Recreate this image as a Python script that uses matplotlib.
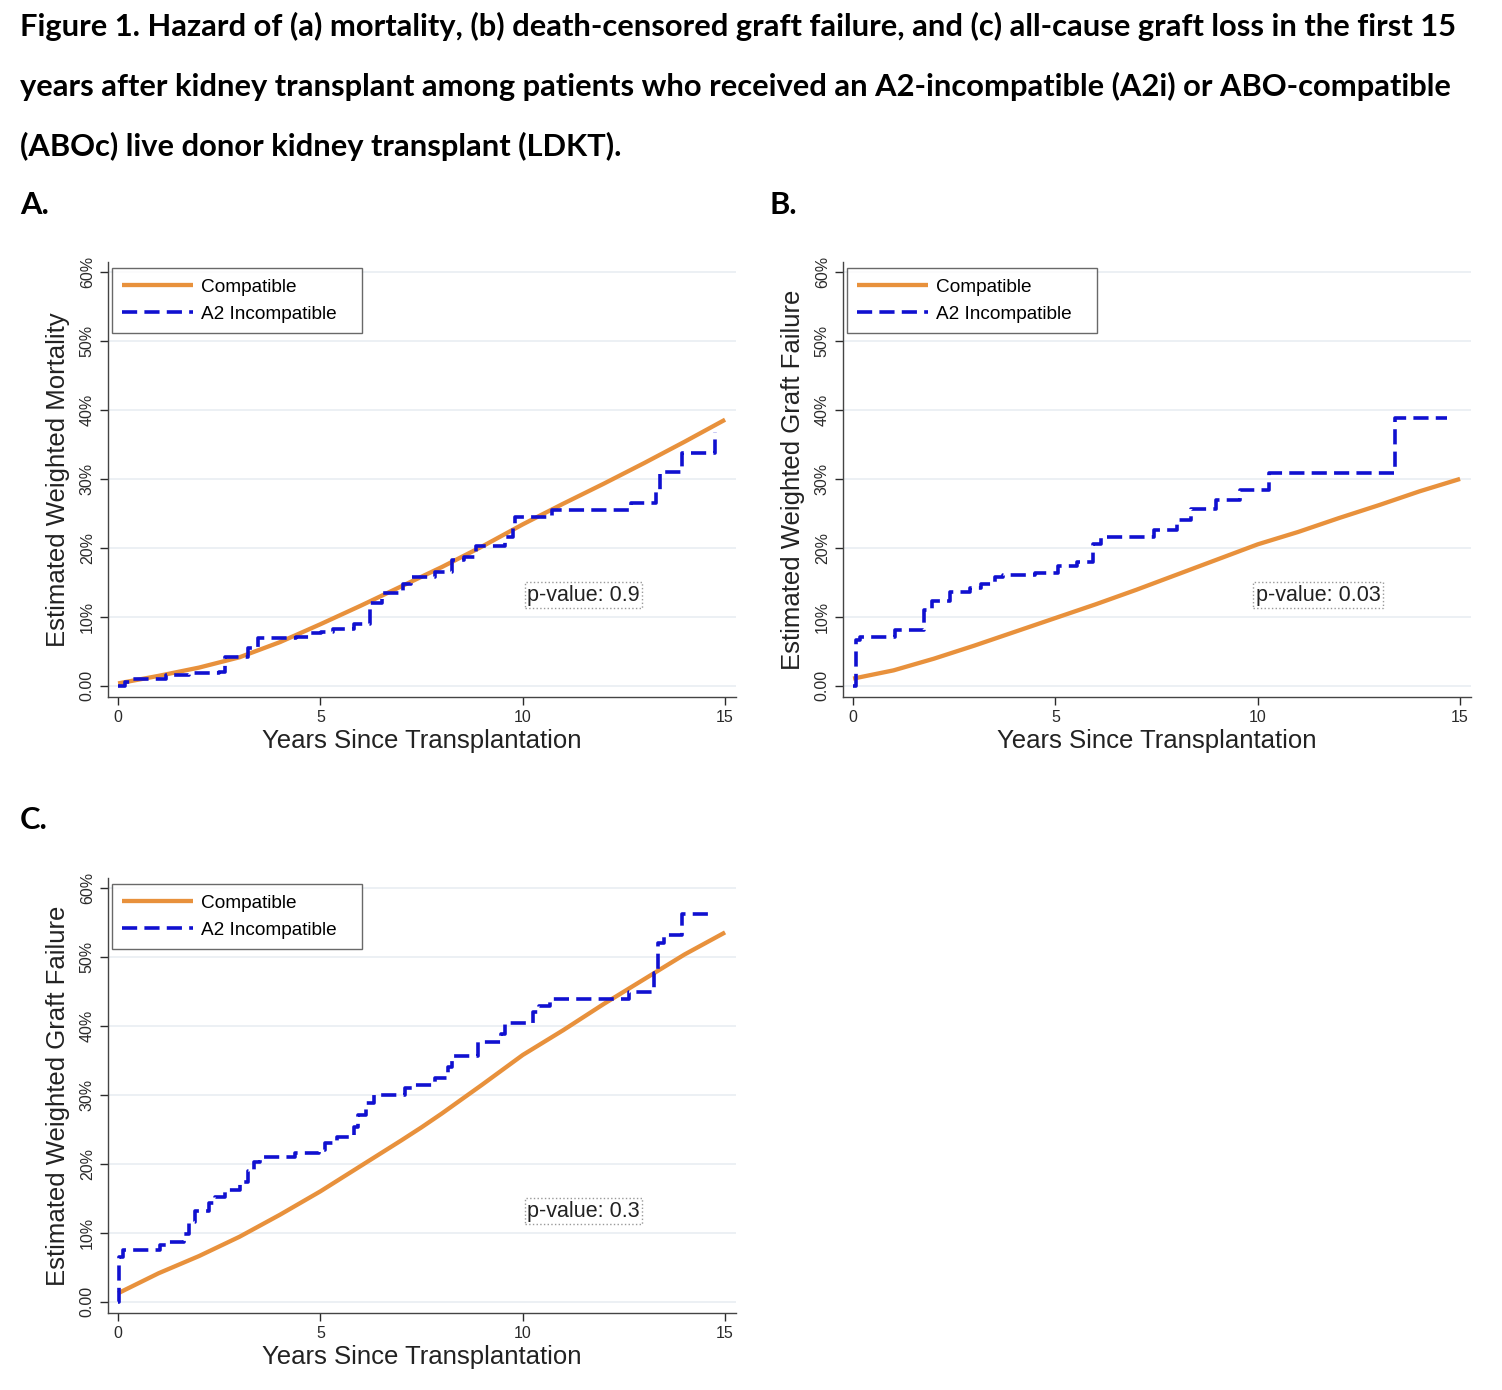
import numpy as np
import matplotlib as mpl
import matplotlib.pyplot as plt

# Panel A: mortality
a_comp_t = [0, 1, 2, 3, 4, 5, 6, 7, 8, 9, 10, 11, 12, 13, 14, 15]
a_comp_y = [0.3, 1.4, 2.6, 4.1, 6.3, 8.9, 11.6, 14.4, 17.2, 20.2, 23.4, 26.4, 29.3, 32.3, 35.4, 38.6]
a_inc_t = [0, 0.18, 0.33, 1.19, 1.74, 2.5, 2.65, 3.2, 3.46, 4.4, 4.77, 5.02, 5.32, 5.83, 6.23, 6.53,
           7.04, 7.24, 7.84, 8.25, 8.55, 8.85, 9.56, 9.76, 9.81, 10.72, 12.68, 13.29, 13.39, 13.94, 14.75]
a_inc_y = [0, 0.5, 1.0, 1.5, 1.8, 2.0, 4.2, 5.4, 6.9, 7.1, 7.6, 7.8, 8.2, 9.0, 12.0, 13.4,
           14.8, 15.8, 16.5, 18.2, 18.7, 20.2, 21.6, 23.0, 24.4, 25.5, 26.5, 28.4, 31.0, 33.7, 36.8]

# Panel B: death-censored graft failure
b_comp_t = [0, 1, 2, 3, 4, 5, 6, 7, 8, 9, 10, 11, 12, 13, 14, 15]
b_comp_y = [1.0, 2.2, 3.9, 5.8, 7.8, 9.8, 11.8, 13.9, 16.1, 18.3, 20.5, 22.3, 24.3, 26.2, 28.2, 30.0]
b_inc_t = [0, 0.07, 0.17, 1.03, 1.74, 1.94, 2.39, 2.9, 3.15, 3.5, 3.7, 4.5, 5.07, 5.53, 5.93, 6.13,
           7.44, 8.0, 8.35, 8.96, 9.57, 10.27, 13.4, 14.67]
b_inc_y = [0, 6.6, 7.1, 8.1, 11.0, 12.2, 13.6, 14.1, 14.8, 15.8, 16.0, 16.4, 17.3, 18.0, 20.6, 21.6,
           22.6, 24.0, 25.6, 26.9, 28.4, 30.8, 38.8, 38.8]

# Panel C: all-cause graft loss
c_comp_t = [0, 1, 2, 3, 4, 5, 6, 7, 7.5, 8, 9, 10, 11, 12, 13, 14, 15]
c_comp_y = [1.2, 4.1, 6.6, 9.4, 12.6, 16.0, 19.7, 23.4, 25.3, 27.3, 31.5, 35.8, 39.4, 43.2, 46.8, 50.4, 53.6]
c_inc_t = [0, 0.03, 0.13, 1.04, 1.24, 1.64, 1.74, 1.9, 2.25, 2.4, 2.65, 3.0, 3.2, 3.36, 3.5, 4.36,
           4.97, 5.12, 5.42, 5.83, 5.93, 6.13, 6.33, 7.09, 7.34, 7.84, 8.15, 8.25, 8.9, 9.46, 9.56,
           10.26, 10.41, 10.67, 12.63, 13.24, 13.34, 13.49, 13.94, 14.65]
c_inc_y = [0, 6.5, 7.5, 8.2, 8.6, 9.8, 11.5, 13.2, 14.3, 15.2, 16.2, 17.4, 18.9, 20.3, 21.0, 21.5,
           22.0, 23.0, 23.9, 25.4, 27.1, 28.8, 30.0, 31.0, 31.4, 32.5, 34.0, 35.6, 37.7, 38.9, 40.4,
           42.0, 42.9, 44.0, 45.0, 47.7, 52.0, 53.2, 56.3, 56.3]

y_ticks = [0, 10, 20, 30, 40, 50, 60]
y_ticklabels = ['0.00', '10%', '20%', '30%', '40%', '50%', '60%']
x_ticks = [0, 5, 10, 15]
p_values = ['p-value: 0.9', 'p-value: 0.03', 'p-value: 0.3']
y_labels = ['Estimated Weighted Mortality', 'Estimated Weighted Graft Failure',
            'Estimated Weighted Graft Failure']

title_lines = [
    'Figure 1. Hazard of (a) mortality, (b) death-censored graft failure, and (c) all-cause graft loss in the first 15',
    'years after kidney transplant among patients who received an A2-incompatible (A2i) or ABO-compatible',
    '(ABOc) live donor kidney transplant (LDKT).',
]

ORANGE = '#e8913c'
BLUE = '#1010d0'
GRID = '#e9eef2'

mpl.rcParams['font.family'] = ['Liberation Sans', 'DejaVu Sans']

W, H = 1502, 1390
fig = plt.figure(figsize=(W / 100, H / 100), dpi=100)

# title lines and panel letters
for ii, line in enumerate(title_lines):
    fig.text(20 / W, 1 - (26 + 60 * ii) / H, line, fontsize=22.2, fontweight='bold',
             family=['Lato', 'DejaVu Sans'], va='center', ha='left')
for lab, (px, py) in zip(['A.', 'B.', 'C.'], [(20, 205), (770, 205), (20, 820)]):
    fig.text(px / W, 1 - py / H, lab, fontsize=22.2, fontweight='bold',
             family=['Lato', 'DejaVu Sans'], va='center', ha='left')


def make_axes(left, right, top, bottom):
    return fig.add_axes([left / W, 1 - bottom / H, (right - left) / W, (bottom - top) / H])


ax_a = make_axes(108, 736, 262, 697)
ax_b = make_axes(843, 1471, 262, 697)
ax_c = make_axes(108, 736, 878, 1313)

panels = [
    (ax_a, a_comp_t, a_comp_y, a_inc_t, a_inc_y),
    (ax_b, b_comp_t, b_comp_y, b_inc_t, b_inc_y),
    (ax_c, c_comp_t, c_comp_y, c_inc_t, c_inc_y),
]

for ii, (ax, ct, cy, it, iy) in enumerate(panels):
    ax.plot(ct, cy, color=ORANGE, lw=3.1, solid_capstyle='butt', label='Compatible', zorder=3)
    ax.plot(it, iy, color=BLUE, lw=2.6, drawstyle='steps-post', dashes=(4.2, 2.0),
            label='A2 Incompatible', zorder=4)

    ax.set_xlim(-0.25, 15.27)
    ax.set_ylim(-1.67, 61.5)
    ax.set_xticks(x_ticks)
    ax.set_yticks(y_ticks)
    ax.set_yticklabels(y_ticklabels, rotation=90, va='center')
    ax.tick_params(axis='both', labelsize=11.5, colors='#2a2a2a', length=6, width=1)
    ax.grid(axis='y', color=GRID, lw=1.2)
    ax.set_axisbelow(True)

    for side in ['top', 'right']:
        ax.spines[side].set_visible(False)
    for side in ['left', 'bottom']:
        ax.spines[side].set_color('#444444')
        ax.spines[side].set_linewidth(1)

    ax.set_xlabel('Years Since Transplantation', fontsize=18.5, color='#222222', labelpad=3)
    ax.set_ylabel(y_labels[ii], fontsize=18.5, color='#222222', labelpad=7)

    # legend box stretched to the width of the original one
    leg = ax.legend(loc='upper left', bbox_to_anchor=(0.0064, 0.986, 0.398, 0), mode='expand',
                    fontsize=13.7, handlelength=3.7, fancybox=False, frameon=True,
                    borderaxespad=0, borderpad=0.55, handletextpad=0.45, labelspacing=0.5)
    leg.get_frame().set_edgecolor('#444444')
    leg.get_frame().set_linewidth(1)

    ax.text(11.5, 13.1, p_values[ii], fontsize=15.5, color='#222222', ha='center', va='center',
            bbox=dict(boxstyle='square,pad=0.12', fc='white', ec='#999999', ls=':', lw=1),
            zorder=2)

fig.savefig('out.png', dpi=100)
